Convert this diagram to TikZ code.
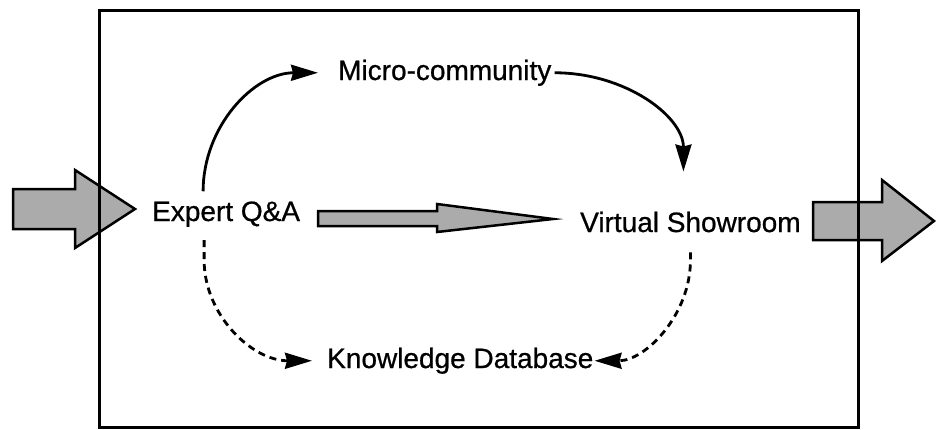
\documentclass[tikz,border=0pt]{standalone}
\usepackage{fontspec}
\setmainfont{Liberation Sans}
\newfontfamily\lblfont[RawFeature={embolden=0.7}]{Liberation Sans}
\usetikzlibrary{arrows.meta}
\begin{document}
\begin{tikzpicture}[x=1pt,y=-1pt,
  lbl/.style={font=\lblfont\fontsize{28}{34}\selectfont, inner sep=0pt, anchor=base west},
  flow/.style={line width=2.8pt, -{Stealth[length=27pt,width=16pt,inset=2pt]}},
  aux/.style={flow, dash pattern=on 7pt off 5pt},
  block/.style={draw=black, line width=2.5pt, fill=black!33, line join=miter},
  frame/.style={draw=black, line width=3pt}]
\useasboundingbox (0,0) rectangle (938,429);

% block arrows: input, internal flow, output
\draw[block] (13,189) -- (75,189) -- (75,170) -- (135,209) -- (75,248)
             -- (75,229) -- (13,229) -- cycle;
\draw[block] (318,211) -- (437,211) -- (437,204) -- (553,219) -- (437,232)
             -- (437,226) -- (318,226) -- cycle;
\draw[block] (813,202) -- (882,202) -- (882,180) -- (934,221) -- (882,261)
             -- (882,240) -- (813,240) -- cycle;

% enclosing frame
\draw[frame] (99,10) rectangle (858,427);

% labels
\node[lbl] (eq) at (152,221) {Expert Q\&A};
\node[lbl] (mc) at (338,80)  {Micro-community};
\node[lbl] (vs) at (580,232) {Virtual Showroom};
\node[lbl] (kd) at (327,368) {Knowledge Database};

% connector end points
\coordinate (eqA) at ([xshift=-23pt,yshift=10pt]eq.north);
\coordinate (eqB) at ([xshift=-22pt,yshift=-13pt]eq.south);
\coordinate (mcW) at ([xshift=-20pt]mc.west);
\coordinate (mcE) at ([xshift=3pt]mc.east);
\coordinate (vsA) at ([xshift=-7pt,yshift=40pt]vs.north);
\coordinate (vsB) at ([yshift=-20pt]vs.south);
\coordinate (kdW) at ([xshift=-15pt]kd.west);
\coordinate (kdE) at ([xshift=1pt]kd.east);

% solid flows
\draw[flow] (eqA) .. controls +(0,-65) and +(-64,0) .. (mcW);
\draw[flow] (mcE) .. controls +(71,0) and +(0,-55) .. (vsA);

% dashed flows
\draw[aux] (eqB) -- ++(0,20) .. controls +(0,55) and +(-60,0) .. (kdW);
\draw[aux] (vsB) -- ++(0,8) .. controls +(0,54) and +(51,0) .. (kdE);
\end{tikzpicture}
\end{document}
